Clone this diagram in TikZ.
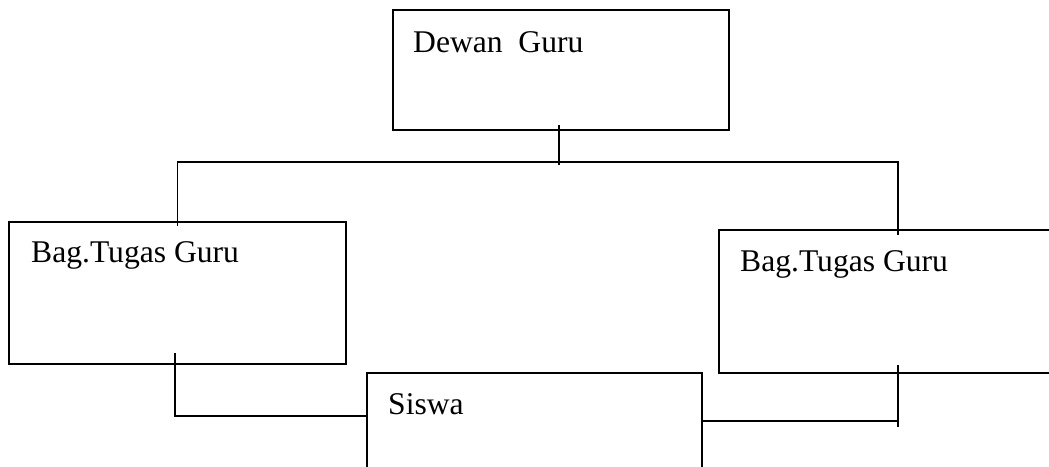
\documentclass[tikz,border=0pt]{standalone}
\usepackage{fontspec}
\setmainfont{Liberation Serif}
\usetikzlibrary{calc}
\begin{document}
\begin{tikzpicture}[x=1pt,y=-1pt,
  box/.style={draw=black,line width=1.7pt,rectangle,inner sep=0pt,outer sep=0pt,anchor=north west},
  lbl/.style={anchor=base west,inner sep=0pt,font=\fontsize{31.6}{38}\selectfont},
  conn/.style={draw=black,line width=1.7pt}]
\useasboundingbox (0,0) rectangle (1049,466);
\clip (0,0) rectangle (1049,466);
\fill[white] (0,0) rectangle (1049,466);
% boxes
\node[box,minimum width=336pt,minimum height=120pt] (dewan) at (393,10) {};
\node[box,minimum width=337pt,minimum height=142pt] (lbox) at (9,222) {};
\node[box,minimum width=358pt,minimum height=143pt] (rbox) at (719,230) {};
\node[box,minimum width=335pt,minimum height=120pt] (siswa) at (367,373) {};
% texts
\node[lbl] (tdewan) at (413,52) {Dewan\ \ Guru};
\node[lbl] (tlbox) at (31,262) {Bag.Tugas Guru};
\node[lbl] (trbox) at (740,271) {Bag.Tugas Guru};
\node[lbl] (tsiswa) at (388,414) {Siswa};
% connectors
\coordinate (bar) at (559,162);
\draw[conn] ([yshift=5pt]dewan.south -| bar) -- ([yshift=-3pt]bar);
\draw[conn] ([yshift=-4pt]lbox.north) -- (lbox.north |- bar) -- (rbox.north |- bar) -- ([yshift=-5pt]rbox.north);
\coordinate (sl) at ([yshift=-43pt]siswa.north west);
\coordinate (sr) at ([yshift=-48pt]siswa.north east);
\coordinate (lb) at ([xshift=-2.5pt,yshift=11pt]lbox.south);
\draw[conn] (lb) -- (lb |- sl) -- (sl);
\draw[conn] ([yshift=8pt]rbox.south) -- ([yshift=-6pt]rbox.south |- sr);
\draw[conn] (sr) -- (sr -| rbox.south);
\end{tikzpicture}
\end{document}
